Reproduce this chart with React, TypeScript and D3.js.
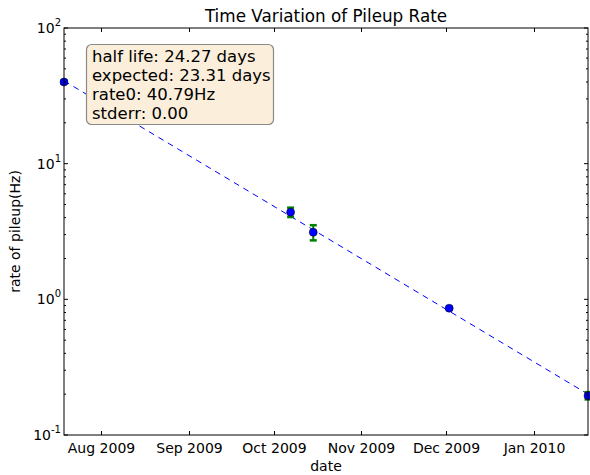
import React from 'react';
import * as d3 from 'd3';

const dates = ['2009-07-19', '2009-10-07', '2009-10-15', '2009-12-02', '2010-01-20'];
const rates = [40.0, 4.39, 3.12, 0.86, 0.195];
const rateErr = [1.0, 0.35, 0.4, 0.02, 0.012];
// fitted exponential, evaluated at the first and last date
const fitValues = [40.79, 0.2];
const boxLines = ['half life: 24.27 days', 'expected: 23.31 days', 'rate0: 40.79Hz', 'stderr: 0.00'];
const monthTicks = ['2009-08-01', '2009-09-01', '2009-10-01', '2009-11-01', '2009-12-01', '2010-01-01'];
const yDecades = [-1, 0, 1, 2];

const W = 590, H = 475;
const margin = { left: 64, right: 2, top: 28, bottom: 40 };
const font = 'DejaVu Sans, sans-serif';

function App() {
    const parse = d3.utcParse('%Y-%m-%d');
    const pts = dates.map((d, i) => ({ date: parse(d) as Date, v: rates[i], e: rateErr[i] }));

    const x = d3.scaleUtc()
        .domain(d3.extent(pts, d => d.date) as [Date, Date])
        .range([margin.left, W - margin.right]);
    const y = d3.scaleLog()
        .domain([0.1, 100])
        .range([H - margin.bottom, margin.top]);

    const x0 = margin.left, x1 = W - margin.right;
    const y0 = H - margin.bottom, y1 = margin.top;
    const fmt = d3.utcFormat('%b %Y');

    const minor: number[] = [];
    yDecades.slice(0, -1).forEach(p => {
        for (let k = 2; k <= 9; k++) minor.push(k * Math.pow(10, p));
    });

    const fitLine = d3.line<number>()
        .x((_, i) => x(pts[i === 0 ? 0 : pts.length - 1].date))
        .y(v => y(v));

    return (
        <div style={{ position: 'absolute', left: 0, top: 0 }}>
            <svg width={W} height={H} style={{ display: 'block', background: '#fff' }} fontFamily={font}>
                <rect x={0} y={0} width={W} height={H} fill="#fff" />
                {/* fit */}
                <path d={fitLine(fitValues) || ''} fill="none" stroke="#0000ff" strokeWidth={1} strokeDasharray="6,5" />
                {/* error bars */}
                {pts.map((p, i) => {
                    const cx = x(p.date);
                    const top = y(p.v + p.e), bot = y(p.v - p.e);
                    return (
                        <g key={'e' + i} stroke="#008000" strokeWidth={2}>
                            <line x1={cx} x2={cx} y1={top} y2={bot} />
                            <line x1={cx - 3.5} x2={cx + 3.5} y1={top} y2={top} strokeWidth={2.5} />
                            <line x1={cx - 3.5} x2={cx + 3.5} y1={bot} y2={bot} strokeWidth={2.5} />
                        </g>
                    );
                })}
                {pts.map((p, i) => (
                    <circle key={'p' + i} cx={x(p.date)} cy={y(p.v)} r={4} fill="#0000ff" stroke="#000" strokeWidth={0.5} />
                ))}
                {/* frame */}
                <rect x={x0} y={y1} width={x1 - x0} height={y0 - y1} fill="none" stroke="#000" strokeWidth={1} />
                {/* x ticks */}
                {monthTicks.map(t => {
                    const tx = Math.round(x(parse(t) as Date)) + 0.5;
                    return (
                        <g key={t}>
                            <line x1={tx} x2={tx} y1={y0} y2={y0 - 4} stroke="#000" />
                            <line x1={tx} x2={tx} y1={y1} y2={y1 + 4} stroke="#000" />
                            <text x={tx} y={y0 + 18} fontSize={14} textAnchor="middle" fill="#000">{fmt(parse(t) as Date)}</text>
                        </g>
                    );
                })}
                {/* y ticks */}
                {yDecades.map(p => {
                    const ty = y(Math.pow(10, p));
                    return (
                        <g key={'d' + p}>
                            <line x1={x0} x2={x0 + 4} y1={ty} y2={ty} stroke="#000" />
                            <line x1={x1} x2={x1 - 4} y1={ty} y2={ty} stroke="#000" />
                            <text x={x0 - 3} y={ty + 5} fontSize={14} textAnchor="end" fill="#000">
                                10<tspan dy={-7} fontSize={10}>{p}</tspan>
                            </text>
                        </g>
                    );
                })}
                {minor.map(v => (
                    <g key={'m' + v}>
                        <line x1={x0} x2={x0 + 2} y1={y(v)} y2={y(v)} stroke="#000" />
                        <line x1={x1} x2={x1 - 2} y1={y(v)} y2={y(v)} stroke="#000" />
                    </g>
                ))}
                {/* labels */}
                <text x={(x0 + x1) / 2} y={22} fontSize={16.8} textAnchor="middle" fill="#000">Time Variation of Pileup Rate</text>
                <text x={(x0 + x1) / 2} y={471} fontSize={14} textAnchor="middle" fill="#000">date</text>
                <text transform={`translate(20,${(y0 + y1) / 2}) rotate(-90)`} fontSize={14} textAnchor="middle" fill="#000">rate of pileup(Hz)</text>
                {/* annotation box */}
                <rect x={86.5} y={44.5} width={187} height={80} rx={5} fill="#fbeedb" stroke="#8a8a8a" strokeWidth={1.2} />
                {boxLines.map((s, i) => (
                    <text key={s} x={92} y={62 + i * 19} fontSize={16.5} fill="#000">{s}</text>
                ))}
            </svg>
        </div>
    );
}

export default App;
